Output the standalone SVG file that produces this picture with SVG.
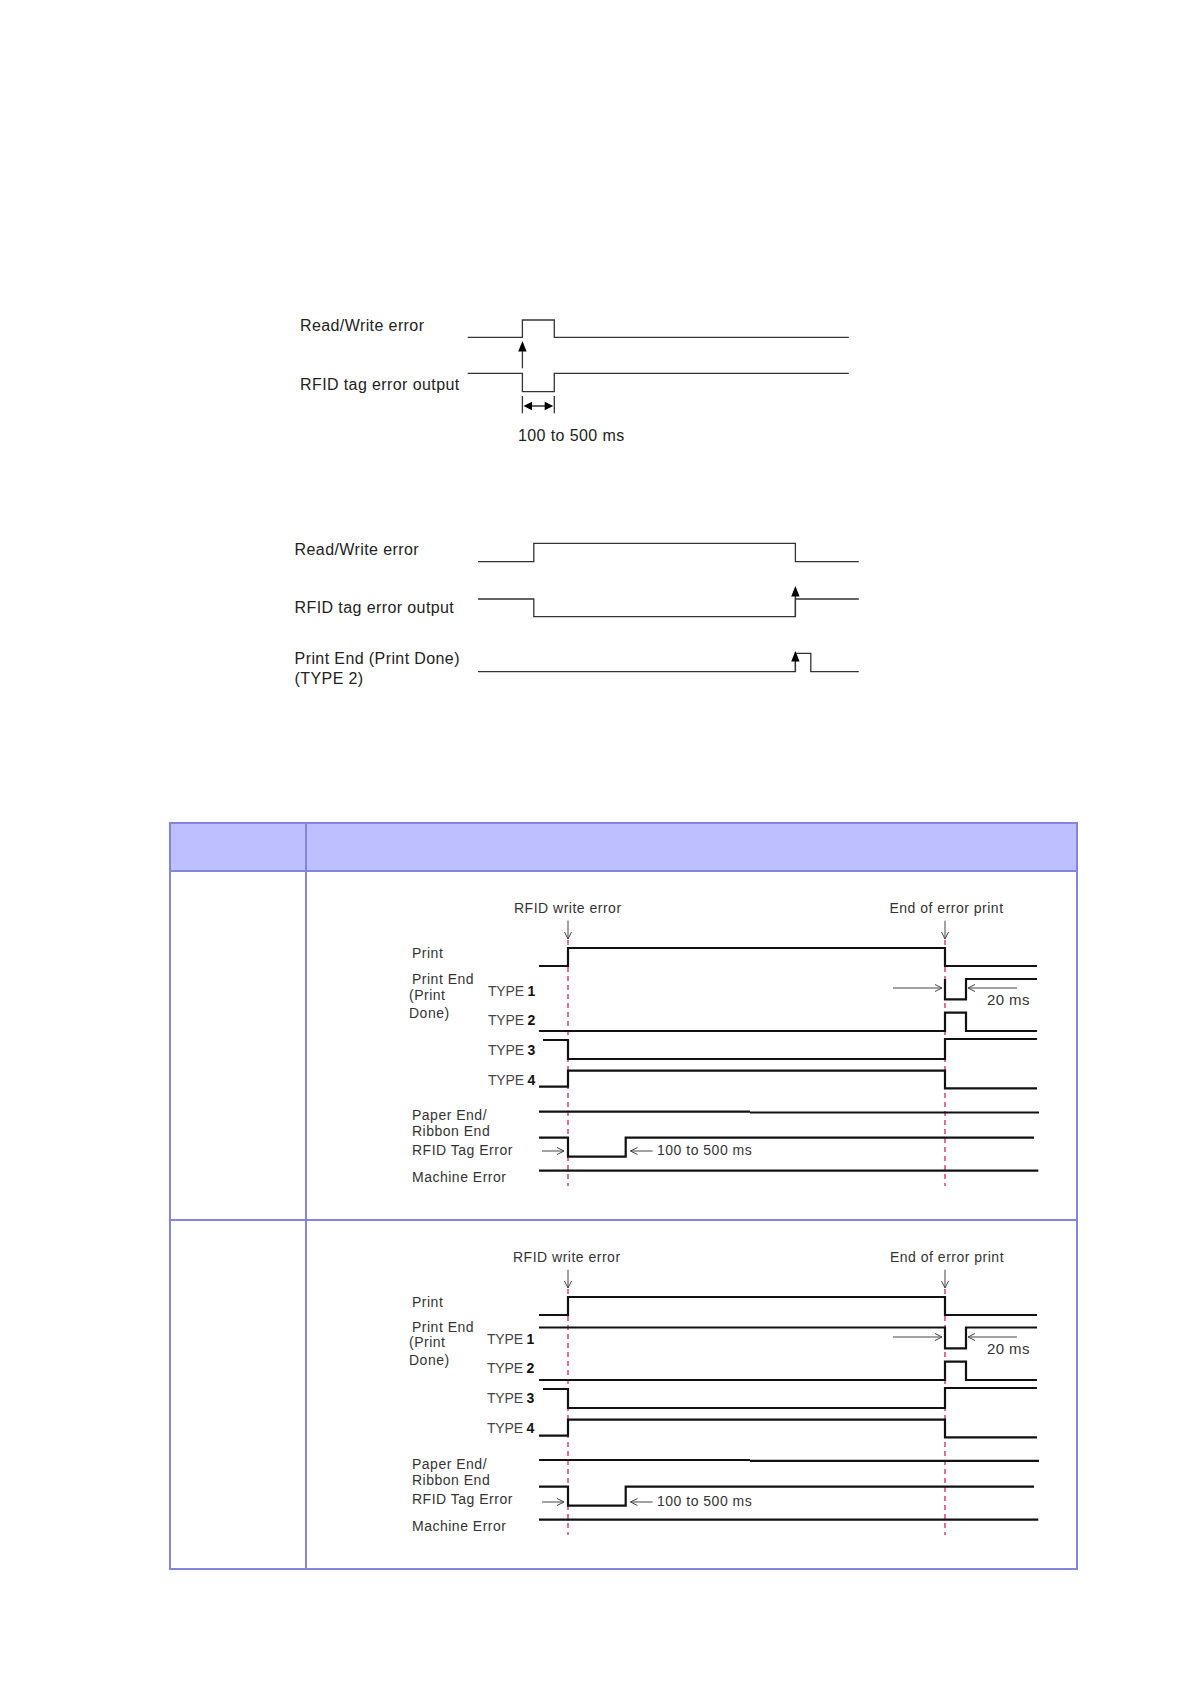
<svg xmlns="http://www.w3.org/2000/svg" width="1191" height="1684" viewBox="0 0 1191 1684">
<style>
.t1{font-family:"Liberation Sans",Arial,sans-serif;font-size:16px;letter-spacing:0.4px;fill:#222}
.t2{font-family:"Liberation Sans",Arial,sans-serif;font-size:14px;letter-spacing:0.5px;fill:#333}
.ty{font-family:"Liberation Sans",Arial,sans-serif;font-size:14px;letter-spacing:-0.2px;fill:#444}
.ms{font-family:"Liberation Sans",Arial,sans-serif;font-size:15px;letter-spacing:0.4px;fill:#333}
.b{font-weight:bold;fill:#111}
.sig1{fill:none;stroke:#333;stroke-width:1.3}
.sig2{fill:none;stroke:#111;stroke-width:2.2}
.red{fill:none;stroke:#E2487A;stroke-width:1.6;stroke-dasharray:5 4}
.thin{fill:none;stroke:#444;stroke-width:1}
.head{fill:#000}
.cell{fill:#fff;stroke:#8383E0;stroke-width:2}
.hdr{fill:#BEBFFF;stroke:#8383E0;stroke-width:2}
</style>
<defs>
<marker id="oa" markerWidth="10" markerHeight="10" refX="8" refY="4" orient="auto" markerUnits="userSpaceOnUse">
<path d="M1,0.5 L8,4 L1,7.5" fill="none" stroke="#444" stroke-width="1"/>
</marker>
</defs>
<rect width="1191" height="1684" fill="#fff"/>

<!-- Section 1 -->
<g id="sec1">
<text class="t1" x="300" y="331">Read/Write error</text>
<text class="t1" x="300" y="390">RFID tag error output</text>
<text class="t1" x="518" y="441">100 to 500 ms</text>
<path class="sig1" d="M467.7,337.3 H522.4 V320 H554.3 V337.3 H848.8"/>
<path class="sig1" d="M467.7,373.3 H522.4 V391.7 H554.3 V373.3 H848.8"/>
<g id="sec1-arrows">
<path class="sig1" d="M522.4,368.3 V350" stroke-width="2"/>
<polygon class="head" points="522.4,341 518.2,351.5 526.6,351.5"/>
<path class="sig1" d="M522.4,396 V413.3 M554.3,396 V413.3 M529,406 H548" stroke-width="1.6"/>
<polygon class="head" points="523.5,406 532,401.8 532,410.2"/>
<polygon class="head" points="553.2,406 544.7,401.8 544.7,410.2"/>
</g>
</g>

<!-- Section 2 -->
<g id="sec2">
<text class="t1" x="294.6" y="555">Read/Write error</text>
<text class="t1" x="294.6" y="613">RFID tag error output</text>
<text class="t1" x="294.6" y="664">Print End (Print Done)</text>
<text class="t1" x="294.6" y="684">(TYPE 2)</text>
<path class="sig1" d="M478,561.7 H533.8 V543.3 H795.4 V561.7 H858.8"/>
<path class="sig1" d="M478,599 H533.8 V616.7 H795.4 V599 H858.8"/>
<path class="sig1" d="M478,671.7 H795.4 V653.3 H810.8 V671.7 H858.8"/>
<g id="sec2-arrows">
<path class="sig1" d="M795.4,616.7 V594" stroke-width="2"/>
<polygon class="head" points="795.4,586 791.2,596.5 799.6,596.5"/>
<path class="sig1" d="M795.4,671.7 V659" stroke-width="2"/>
<polygon class="head" points="795.4,651 791.2,661.5 799.6,661.5"/>
</g>
</g>

<!-- Table -->
<g id="table">
<rect class="hdr" x="170" y="823" width="907" height="48"/>
<rect class="cell" x="170" y="871" width="907" height="349"/>
<rect class="cell" x="170" y="1220" width="907" height="349"/>
<line x1="306" y1="823" x2="306" y2="1569" stroke="#8383E0" stroke-width="2"/>
</g>

<!-- Row 1 timing chart -->
<g id="row1">
<g id="row1-labels">
<text class="t2" x="514" y="913.3">RFID write error</text>
<text class="t2" x="889.5" y="913.3">End of error print</text>
<text class="t2" x="412" y="958">Print</text>
<text class="t2" x="412" y="984">Print End</text>
<text class="t2" x="409" y="1000">(Print</text>
<text class="t2" x="409" y="1018">Done)</text>
<text class="ty" x="488" y="996">TYPE <tspan class="b">1</tspan></text>
<text class="ty" x="488" y="1025">TYPE <tspan class="b">2</tspan></text>
<text class="ty" x="488" y="1055">TYPE <tspan class="b">3</tspan></text>
<text class="ty" x="488" y="1085">TYPE <tspan class="b">4</tspan></text>
<text class="t2" x="412" y="1120">Paper End/</text>
<text class="t2" x="412" y="1135.7">Ribbon End</text>
<text class="t2" x="412" y="1155">RFID Tag Error</text>
<text class="t2" x="412" y="1181.7">Machine Error</text>
<text class="ms" x="987" y="1005">20 ms</text>
<text class="t2" x="657" y="1155">100 to 500 ms</text>
</g>
<g id="row1-connectors">
<path class="red" d="M568,940 V1186 M945,940 V1186"/>
<path class="sig2" d="M539,966 H568 V948 H945 V966 H1037"/>
<path class="sig2" d="M945,979 V999.3 H966 V979 H1037"/>
<path class="sig2" d="M539,1031 H945 V1012.7 H966 V1031 H1037"/>
<path class="sig2" d="M543,1040 H568 V1059 H945 V1039 H1037"/>
<path class="sig2" d="M539,1086.7 H568 V1070.7 H945 V1088.3 H1037"/>
<path class="sig2" d="M539,1111.7 H750 M750,1112.5 H1039"/>
<path class="sig2" d="M539,1137.7 H568 V1156.7 H625.7 V1137.7 H1034"/>
<path class="sig2" d="M539,1170.7 H1038.3"/>
<path class="thin" d="M568,920.7 V939" marker-end="url(#oa)"/>
<path class="thin" d="M945,920.7 V939" marker-end="url(#oa)"/>
<path class="thin" d="M893,988 H942" marker-end="url(#oa)"/>
<path class="thin" d="M1017,988 H968" marker-end="url(#oa)"/>
<path class="thin" d="M542,1151 H564" marker-end="url(#oa)"/>
<path class="thin" d="M652.6,1151 H630.5" marker-end="url(#oa)"/>
</g>
</g>

<!-- Row 2 timing chart -->
<g id="row2" transform="translate(0,349)">
<g id="row2-labels">
<text class="t2" x="513" y="913.3">RFID write error</text>
<text class="t2" x="890" y="913.3">End of error print</text>
<text class="t2" x="412" y="958">Print</text>
<text class="t2" x="412" y="983">Print End</text>
<text class="t2" x="409" y="998">(Print</text>
<text class="t2" x="409" y="1016">Done)</text>
<text class="ty" x="487" y="994.5">TYPE <tspan class="b">1</tspan></text>
<text class="ty" x="487" y="1024">TYPE <tspan class="b">2</tspan></text>
<text class="ty" x="487" y="1053.5">TYPE <tspan class="b">3</tspan></text>
<text class="ty" x="487" y="1083.5">TYPE <tspan class="b">4</tspan></text>
<text class="t2" x="412" y="1120">Paper End/</text>
<text class="t2" x="412" y="1135.7">Ribbon End</text>
<text class="t2" x="412" y="1155">RFID Tag Error</text>
<text class="t2" x="412" y="1181.7">Machine Error</text>
<text class="ms" x="987" y="1005">20 ms</text>
<text class="t2" x="657" y="1157">100 to 500 ms</text>
</g>
<g id="row2-connectors">
<path class="red" d="M568,940 V1186 M945,940 V1186"/>
<path class="sig2" d="M539,966 H568 V948 H945 V966 H1037"/>
<path class="sig2" d="M539,978.5 H945 V999.3 H966 V978.5 H1037"/>
<path class="sig2" d="M539,1031 H945 V1012.7 H966 V1031 H1037"/>
<path class="sig2" d="M543,1040 H568 V1059 H945 V1039 H1037"/>
<path class="sig2" d="M539,1086.7 H568 V1070.7 H945 V1088.3 H1037"/>
<path class="sig2" d="M539,1111 H750 M750,1111.8 H1039"/>
<path class="sig2" d="M539,1137.7 H568 V1156.7 H625.7 V1137.7 H1034"/>
<path class="sig2" d="M539,1170.7 H1038.3"/>
<path class="thin" d="M568,920.7 V939" marker-end="url(#oa)"/>
<path class="thin" d="M945,920.7 V939" marker-end="url(#oa)"/>
<path class="thin" d="M893,988 H942" marker-end="url(#oa)"/>
<path class="thin" d="M1017,988 H968" marker-end="url(#oa)"/>
<path class="thin" d="M542,1153 H564" marker-end="url(#oa)"/>
<path class="thin" d="M652.6,1153 H630.5" marker-end="url(#oa)"/>
</g>
</g>
</svg>
